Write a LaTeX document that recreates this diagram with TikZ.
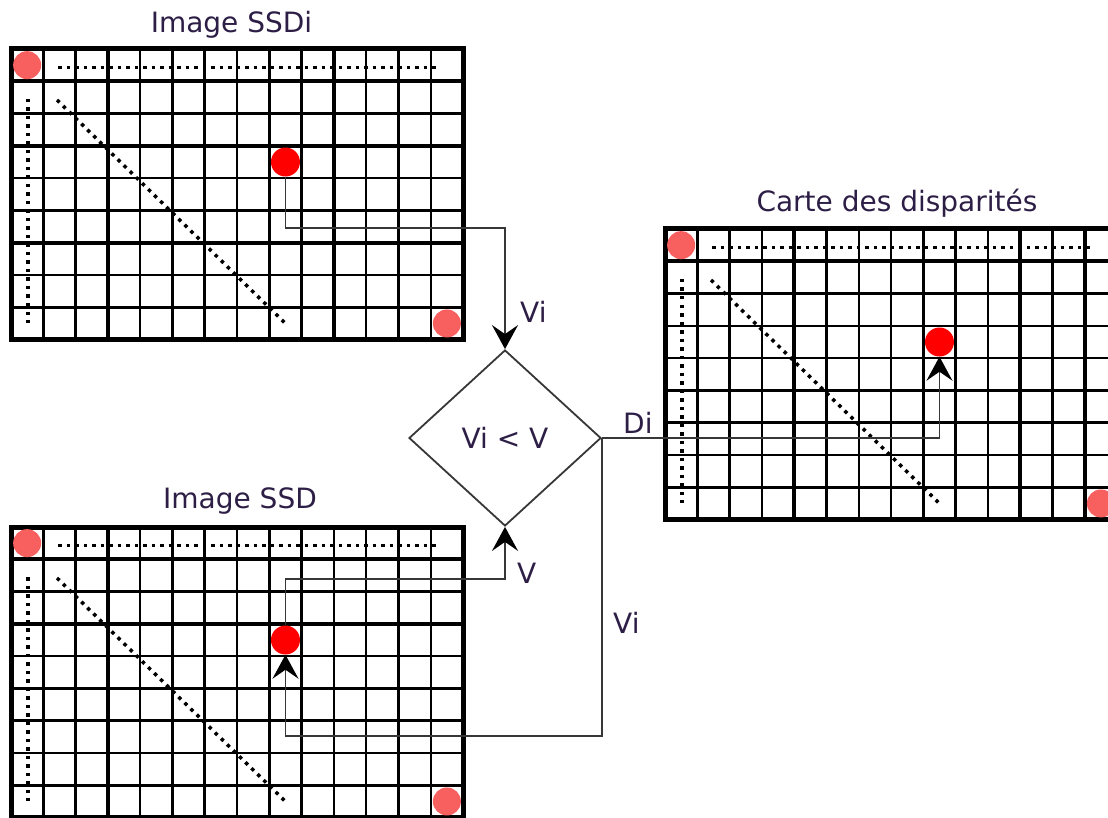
\documentclass[tikz,border=0pt]{standalone}
\usepackage{fontspec}
\setmainfont{DejaVu Sans}
\usetikzlibrary{shapes.geometric,arrows.meta}
\definecolor{txt}{RGB}{45,30,70}
\definecolor{cPink}{RGB}{248,96,96}
\definecolor{cRed}{RGB}{255,0,0}
\definecolor{cConn}{RGB}{55,55,55}
\newcommand{\cs}{32.29}
\tikzset{
  gridline/.style={line width=2.5pt,black},
  thickline/.style={line width=3.6pt,black},
  gridborder/.style={line width=5pt,black},
  dotline/.style={line width=3.5pt,black,dash pattern=on 3.5pt off 5pt},
  rdot/.style={circle,fill=cRed,minimum size=29pt,inner sep=0pt},
  conn/.style={line width=1.8pt,draw=cConn,-{Stealth[length=24pt,width=26pt,inset=9pt,color=black]}},
  lbl/.style={font=\fontsize{28}{34}\selectfont,text=txt,inner sep=0pt},
  pics/ssgrid/.style n args={2}{code={
    \foreach \i in {1,...,13} \draw[gridline] ({\i*\cs},0) -- ({\i*\cs},{9*\cs});
    \foreach \j in {1,...,8} \draw[gridline] (0,{\j*\cs}) -- ({14*\cs},{\j*\cs});
    \foreach \i in {#1} \draw[thickline] ({\i*\cs},0) -- ({\i*\cs},{9*\cs});
    \foreach \j in {#2} \draw[thickline] (0,{\j*\cs}) -- ({14*\cs},{\j*\cs});
    \draw[gridborder] (0,0) rectangle ({14*\cs},{9*\cs});
    \draw[dotline] (47,18.5) -- (429,18.5);
    \draw[dotline] (17,50) -- (17,274);
    \draw[dotline] (46,51) -- (276,276);
    \fill[cPink] ({0.5*\cs},{0.5*\cs}) circle[radius=14pt];
    \fill[cPink] ({13.5*\cs},{8.5*\cs}) circle[radius=14pt];
  }}
}
\begin{document}
\begin{tikzpicture}[x=1pt,y=-1pt]
\useasboundingbox (0,0) rectangle (1108,818);
\clip (0,0) rectangle (1108,818);
% grids
\pic at (11,49) {ssgrid={3,8,10}{1,3,6}};
\pic at (11,527) {ssgrid={3,5,12}{1,3,8}};
\pic at (665,229) {ssgrid={4,11,13}{1,5}};
% red dots
\node[rdot] (ra) at ({11+8.5*\cs},{49+3.5*\cs}) {};
\node[rdot] (rb) at ({11+8.5*\cs},{527+3.5*\cs}) {};
\node[rdot] (rc) at ({665+8.5*\cs},{229+3.5*\cs}) {};
% decision
\node[diamond,draw=cConn,line width=1.8pt,minimum width=192pt,minimum height=176pt,
      inner sep=0pt,font=\fontsize{28}{34}\selectfont,text=txt] (dec) at (505,438) {Vi < V};
% bend coordinates
\coordinate (ka) at (400,228);
\coordinate (kb) at (400,579);
\coordinate (kc) at (400,736);
% connectors
\draw[conn] (ra) |- (ka) -| (dec.north);
\draw[conn] (rb) |- (kb) -| (dec.south);
\draw[conn] (dec.east) |- (kc) -| (rb);
\draw[conn] (dec.east) -| (rc);
% titles
\node[lbl,anchor=base] (t1) at (231.5,33) {Image SSDi};
\node[lbl,anchor=base] (t2) at (897,211.5) {Carte des disparités};
\node[lbl,anchor=base] (t3) at (240,508) {Image SSD};
% labels
\node[lbl,anchor=base west] (l1) at (520,322) {Vi};
\node[lbl,anchor=base west] (l2) at (623,433) {Di};
\node[lbl,anchor=base west] (l3) at (517,583) {V};
\node[lbl,anchor=base west] (l4) at (613,633) {Vi};
\end{tikzpicture}
\end{document}
